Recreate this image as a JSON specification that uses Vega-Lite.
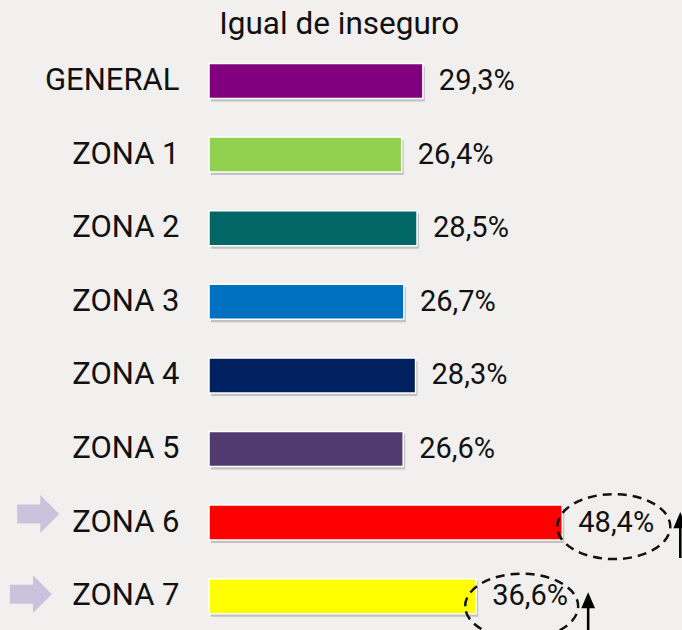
{
  "$schema": "https://vega.github.io/schema/vega-lite/v6.json",
  "width": 473,
  "height": 580,
  "autosize": {"type": "none"},
  "padding": {"left": 209, "top": 50, "right": 0, "bottom": 0},
  "background": "#f1f0ee",
  "config": {
    "view": {"stroke": null},
    "font": "Roboto",
    "locale": {"number": {"decimal": ",", "thousands": ".", "grouping": [3], "currency": ["", " €"]}}
  },
  "data": {
    "values": [
      {"zona": "GENERAL", "valor": 0.293},
      {"zona": "ZONA 1", "valor": 0.264},
      {"zona": "ZONA 2", "valor": 0.285},
      {"zona": "ZONA 3", "valor": 0.267},
      {"zona": "ZONA 4", "valor": 0.283},
      {"zona": "ZONA 5", "valor": 0.266},
      {"zona": "ZONA 6", "valor": 0.484},
      {"zona": "ZONA 7", "valor": 0.366}
    ]
  },
  "encoding": {
    "y": {
      "field": "zona",
      "type": "nominal",
      "sort": null,
      "scale": {"range": [-5.8, 583], "paddingInner": 0.524, "paddingOuter": 0.262},
      "axis": {
        "title": null,
        "domain": false,
        "ticks": false,
        "tickSize": 0,
        "labelPadding": 30,
        "labelFontSize": 31,
        "labelFont": "Roboto",
        "labelFontWeight": "normal",
        "labelColor": "#111111"
      }
    },
    "x": {
      "field": "valor",
      "type": "quantitative",
      "scale": {"domain": [0, 0.648], "nice": false, "zero": false},
      "axis": null
    }
  },
  "layer": [
    {
      "mark": {"type": "bar", "color": "#8a8a8a", "opacity": 0.45, "yOffset": 3, "xOffset": 2}
    },
    {
      "mark": {"type": "bar", "stroke": "#ffffff", "strokeWidth": 1.5},
      "encoding": {
        "color": {
          "field": "zona",
          "type": "nominal",
          "scale": {
            "domain": ["GENERAL", "ZONA 1", "ZONA 2", "ZONA 3", "ZONA 4", "ZONA 5", "ZONA 6", "ZONA 7"],
            "range": ["#800080", "#92d050", "#006666", "#0070c0", "#002060", "#503a70", "#ff0000", "#ffff00"]
          },
          "legend": null
        }
      }
    },
    {
      "mark": {"type": "text", "align": "left", "baseline": "middle", "dx": 16, "fontSize": 29, "color": "#111111"},
      "encoding": {"text": {"field": "valor", "type": "quantitative", "format": ".1%"}}
    },
    {
      "transform": [{"filter": "datum.zona === 'GENERAL'"}],
      "mark": {"type": "text", "align": "left", "baseline": "alphabetic", "fontSize": 31.5, "color": "#111111", "yOffset": -47},
      "encoding": {
        "x": {"datum": 0.014, "type": "quantitative"},
        "text": {"value": "Igual de inseguro"}
      }
    },
    {
      "transform": [{"filter": "datum.zona === 'ZONA 6'"}],
      "mark": {"type": "point", "shape": "M-1,0 A1,0.575 0 1,1 1,0 A1,0.575 0 1,1 -1,0 Z", "size": 12769, "filled": false, "stroke": "#111111", "strokeWidth": 2.5, "strokeDash": [9, 6], "opacity": 1, "xOffset": 51.5, "yOffset": 4}
    },
    {
      "transform": [{"filter": "datum.zona === 'ZONA 7'"}],
      "mark": {"type": "point", "shape": "M-1,0 A1,0.575 0 1,1 1,0 A1,0.575 0 1,1 -1,0 Z", "size": 12769, "filled": false, "stroke": "#111111", "strokeWidth": 2.5, "strokeDash": [9, 6], "opacity": 1, "xOffset": 45.5, "yOffset": 10}
    },
    {
      "transform": [{"filter": "datum.zona === 'ZONA 6'"}],
      "mark": {"type": "point", "shape": "M0,-1 L0.3,-0.3 L0.055,-0.3 L0.055,1 L-0.055,1 L-0.055,-0.3 L-0.3,-0.3 Z", "size": 2116, "filled": true, "color": "#000000", "opacity": 1, "strokeWidth": 0, "xOffset": 118, "yOffset": 12.5}
    },
    {
      "transform": [{"filter": "datum.zona === 'ZONA 7'"}],
      "mark": {"type": "point", "shape": "M0,-1 L0.3,-0.3 L0.055,-0.3 L0.055,1 L-0.055,1 L-0.055,-0.3 L-0.3,-0.3 Z", "size": 2116, "filled": true, "color": "#000000", "opacity": 1, "strokeWidth": 0, "xOffset": 112, "yOffset": 19}
    },
    {
      "transform": [{"filter": "datum.zona === 'ZONA 6'"}],
      "mark": {"type": "point", "shape": "M-1,-0.45 L0.1,-0.45 L0.1,-0.9 L1,0 L0.1,0.9 L0.1,0.45 L-1,0.45 Z", "size": 1764, "filled": true, "color": "#cbc3de", "opacity": 1, "strokeWidth": 0, "yOffset": -8.6},
      "encoding": {"x": {"datum": -0.234, "type": "quantitative"}}
    },
    {
      "transform": [{"filter": "datum.zona === 'ZONA 7'"}],
      "mark": {"type": "point", "shape": "M-1,-0.45 L0.1,-0.45 L0.1,-0.9 L1,0 L0.1,0.9 L0.1,0.45 L-1,0.45 Z", "size": 1764, "filled": true, "color": "#cbc3de", "opacity": 1, "strokeWidth": 0, "yOffset": -2},
      "encoding": {"x": {"datum": -0.244, "type": "quantitative"}}
    }
  ]
}
